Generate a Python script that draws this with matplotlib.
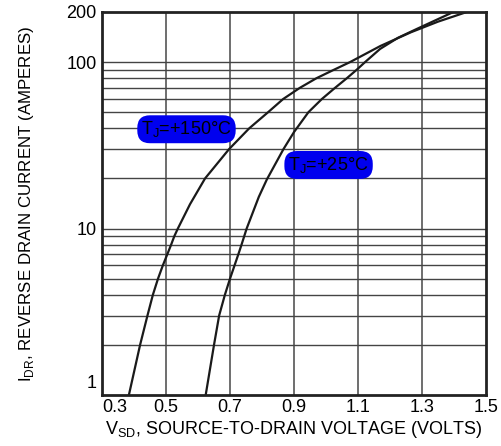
import matplotlib
matplotlib.use("Agg")
import matplotlib.pyplot as plt
from matplotlib.transforms import ScaledTranslation

plt.rcParams['font.family'] = ['Liberation Sans', 'DejaVu Sans']
plt.rcParams['mathtext.fontset'] = 'custom'
plt.rcParams['mathtext.rm'] = 'Liberation Sans'

# curve readings: source-to-drain voltage (V) vs reverse drain current (A)
v_150 = [0.384, 0.419, 0.442, 0.459, 0.475, 0.490, 0.504, 0.516, 0.526, 0.537,
         0.575, 0.622, 0.697, 0.760, 0.819, 0.866, 0.918, 0.970, 1.025, 1.075,
         1.170, 1.265, 1.350, 1.440]
i_150 = [1.0, 2.0, 3.0, 4.0, 5.0, 6.0, 7.0, 8.0, 9.0, 10.0,
         14.0, 20.0, 30.0, 40.0, 50.0, 60.0, 70.0, 80.0, 90.0, 100.0,
         125.0, 151.0, 175.0, 200.0]

v_25 = [0.624, 0.650, 0.666, 0.684, 0.700, 0.726, 0.736, 0.752, 0.790, 0.815,
        0.867, 0.900, 0.945, 0.987, 1.028, 1.065, 1.096, 1.122, 1.169, 1.225,
        1.283, 1.398]
i_25 = [1.0, 2.0, 3.0, 4.0, 5.0, 7.0, 8.0, 10.0, 15.5, 19.7,
        30.0, 38.0, 50.0, 60.0, 70.0, 80.0, 90.0, 100.0, 120.0, 140.0,
        158.0, 200.0]

x_ticks = [0.3, 0.5, 0.7, 0.9, 1.1, 1.3, 1.5]
x_labels = ['0.3', '0.5', '0.7', '0.9', '1.1', '1.3', '1.5']
y_ticks = [1, 10, 100, 200]
y_labels = ['1', '10', '100', '200']
y_grid = [2, 3, 4, 5, 6, 7, 8, 9, 10, 20, 30, 40, 50, 60, 70, 80, 90, 100]

fig = plt.figure(figsize=(5.01, 4.46), dpi=100)
ax = fig.add_axes([0.2036, 0.1143, 0.7665, 0.8588])

ax.set_yscale('log')
ax.set_xlim(0.3, 1.5)
ax.set_ylim(1, 200)

for x in x_ticks[1:-1]:
    ax.axvline(x, color='#555555', lw=1.2, zorder=1)
for y in y_grid:
    ax.axhline(y, color='#444444', lw=1.0, zorder=1)

ax.plot(v_150, i_150, color='#1a1a1a', lw=1.6, zorder=3)
ax.plot(v_25, i_25, color='#1a1a1a', lw=1.6, zorder=3)

box = dict(boxstyle='round,pad=0.22,rounding_size=0.7', fc='#0000ee', ec='none')
ax.text(0.564, 39.5, r'T$_\mathregular{J}$=+150°C', fontsize=13, ha='center', va='center',
        color='black', bbox=box, zorder=4)
ax.text(1.008, 24.1, r'T$_\mathregular{J}$=+25°C', fontsize=13, ha='center', va='center',
        color='black', bbox=box, zorder=4)

ax.set_xticks(x_ticks)
ax.set_xticklabels(x_labels, fontsize=13)
ax.set_yticks(y_ticks)
ax.set_yticklabels(y_labels, fontsize=13)
ax.minorticks_off()
ax.tick_params(axis='x', length=0, pad=3)
ax.tick_params(axis='y', length=0, pad=4)

# first x label sits inside the axis edge, bottom y label a bit raised
ax.get_xticklabels()[0].set_horizontalalignment('left')
lab1 = ax.get_yticklabels()[0]
lab1.set_transform(lab1.get_transform() + ScaledTranslation(0, 0.14, fig.dpi_scale_trans))

for s in ax.spines.values():
    s.set_linewidth(2)
    s.set_color('#222222')
    s.set_zorder(5)

ax.set_xlabel(r'V$_\mathregular{SD}$, SOURCE-TO-DRAIN VOLTAGE (VOLTS)', fontsize=13, labelpad=2)
ax.set_ylabel(r'I$_\mathregular{DR}$, REVERSE DRAIN CURRENT (AMPERES)', fontsize=12.2, labelpad=22)

fig.savefig('out.png', dpi=100)
